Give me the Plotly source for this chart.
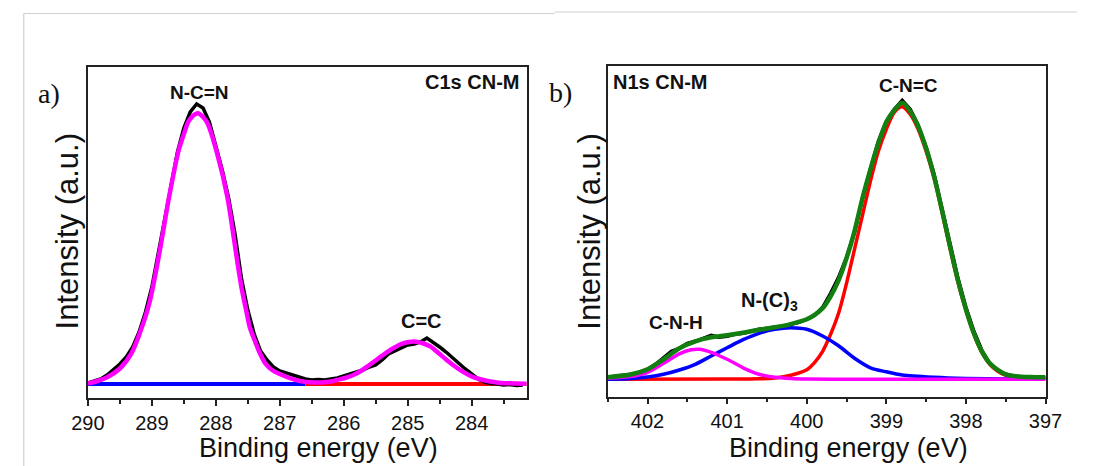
import plotly.graph_objects as go

# ---------------- Panel a: C1s CN-M ----------------
c1s_energy = [290.0, 289.9, 289.8, 289.7, 289.6, 289.5, 289.4, 289.3, 289.2, 289.1,
              289.0, 288.9, 288.8, 288.7, 288.6, 288.5, 288.4, 288.3, 288.2, 288.1,
              288.0, 287.9, 287.8, 287.7, 287.6, 287.5, 287.4, 287.3, 287.2, 287.1,
              287.0, 286.9, 286.8, 286.7, 286.6, 286.5, 286.4, 286.3, 286.2, 286.1,
              286.0, 285.9, 285.8, 285.7, 285.6, 285.5, 285.4, 285.3, 285.2, 285.1,
              285.0, 284.9, 284.8, 284.7, 284.6, 284.5, 284.4, 284.3, 284.2, 284.1,
              284.0, 283.9, 283.8, 283.7, 283.6, 283.5, 283.4, 283.3, 283.2]
c1s_raw = [1, 3, 5, 9, 14, 20, 27, 37, 52, 72,
           97, 130, 165, 200, 232, 256, 272, 280, 276, 262,
           238, 214, 186, 150, 106, 74, 50, 33, 24, 17,
           13, 11, 9, 7, 5, 4, 4.5, 4, 5, 6,
           8, 10, 12, 14, 17, 19, 24, 30, 33, 36,
           39, 40, 42, 46, 42, 37, 32, 26, 21, 15,
           10, 5, 2, 0.5, 0, -1, -0.5, -1.5, -1]

c1s_fit_energy = [290.0, 289.85, 289.7, 289.5, 289.32, 289.19, 289.04, 288.88, 288.73,
                  288.58, 288.5, 288.43, 288.36, 288.28, 288.2, 288.13, 287.98, 287.82,
                  287.67, 287.6, 287.52, 287.47, 287.37, 287.32, 287.22, 287.12, 287.0,
                  286.87, 286.75, 286.61, 286.45, 286.36, 286.2, 286.11, 285.98, 285.85,
                  285.72, 285.6, 285.47, 285.35, 285.22, 285.1, 284.98, 284.87, 284.75,
                  284.64, 284.52, 284.39, 284.27, 284.14, 284.0, 283.88, 283.73, 283.58,
                  283.4, 283.14]
c1s_fit = [0.5, 3, 6.7, 15.5, 30.7, 50.7, 80.7, 132, 187.3,
           234, 250, 262.3, 268, 270.7, 267, 260.7, 230.7, 187.3,
           125, 97, 72, 57, 40, 32, 20, 14, 10,
           6.5, 4, 2.3, 1.5, 1.5, 2.5, 4, 6, 9,
           13.5, 19, 25, 30.7, 36, 40, 42, 42.3, 40.5,
           37.3, 31, 24, 18, 12.3, 7.5, 5, 2.7, 1.3,
           0.7, 0.3]

c1s_blue_energy = [290.0, 286.6]
c1s_blue = [0, 0]
c1s_red_energy = [286.6, 283.14]
c1s_red = [0, 0]

# ---------------- Panel b: N1s CN-M ----------------
n1s_energy = [402.5, 402.4, 402.3, 402.2, 402.1, 402.0, 401.9, 401.8, 401.7, 401.6,
              401.5, 401.4, 401.3, 401.2, 401.1, 401.0, 400.9, 400.8, 400.7, 400.6,
              400.5, 400.4, 400.3, 400.2, 400.1, 400.0, 399.9, 399.8, 399.7, 399.6,
              399.5, 399.4, 399.3, 399.2, 399.1, 399.0, 398.9, 398.8, 398.7, 398.6,
              398.5, 398.4, 398.3, 398.2, 398.1, 398.0, 397.9, 397.8, 397.7, 397.6,
              397.5, 397.4, 397.3, 397.2, 397.1, 397.0]
n1s_raw = [2, 3, 4, 5, 7, 10, 15, 22, 28, 31,
           36, 38, 41, 44, 42, 43, 45, 46, 48, 50,
           51, 52, 53, 55, 57, 60, 64, 72, 86, 102,
           122, 147, 181, 210, 238, 258, 270, 279, 270, 254,
           232, 205, 172, 136, 101, 72, 48, 29, 16, 9,
           5, 3, 2.5, 2, 2, 1.5]

n1s_env_energy = [402.5, 402.2, 402.0, 401.8, 401.6, 401.4, 401.2, 401.0, 400.8, 400.6,
                  400.4, 400.2, 400.0, 399.9, 399.8, 399.7, 399.6, 399.5, 399.4, 399.3,
                  399.2, 399.1, 399.0, 398.9, 398.8, 398.7, 398.6, 398.5, 398.4, 398.3,
                  398.2, 398.1, 398.0, 397.9, 397.8, 397.7, 397.6, 397.5, 397.4, 397.2,
                  397.0]
n1s_env = [2, 5, 10, 20, 31, 38, 42, 44, 46.5, 49.5,
           52, 55.2, 60, 64.5, 71, 83, 99, 121, 148, 181,
           210, 236, 257, 269, 276.6, 268, 253, 231, 203, 169,
           133, 99, 70, 46, 28, 16, 9.5, 5, 3.3, 2.2,
           2]

n1s_cnc_energy = [402.5, 401.0, 400.6, 400.4, 400.2, 400.0, 399.9, 399.8, 399.7, 399.6,
                  399.5, 399.4, 399.3, 399.2, 399.1, 399.0, 398.9, 398.8, 398.7, 398.6,
                  398.5, 398.4, 398.3, 398.2, 398.1, 398.0, 397.9, 397.8, 397.7, 397.6,
                  397.5, 397.4, 397.2, 397.0]
n1s_cnc = [0, 0.2, 0.5, 1.3, 4, 9.5, 17, 28, 45, 66,
           96, 130, 164, 198, 228, 250, 267, 272.6, 265, 250,
           228, 201, 167, 131, 97, 69, 45, 27, 15, 8,
           4, 2.3, 1.3, 1]

n1s_nc3_energy = [402.5, 402.2, 402.0, 401.8, 401.6, 401.4, 401.2, 401.0, 400.8, 400.6,
                  400.4, 400.2, 400.0, 399.8, 399.6, 399.4, 399.2, 399.0, 398.8, 398.4,
                  398.0, 397.5, 397.0]
n1s_nc3 = [0, 0.8, 2.3, 5, 9.3, 15, 23.3, 31.5, 39.6, 46,
           50, 51.6, 50, 43.3, 33.5, 21, 11.5, 7.5, 4.3, 2,
           0.8, 0.2, 0]

n1s_cnh_energy = [402.5, 402.2, 402.0, 401.8, 401.6, 401.45, 401.35, 401.2, 401.0, 400.8,
                  400.6, 400.4, 400.2, 400.0, 399.5, 398.0, 397.0]
n1s_cnh = [1, 3, 7, 16, 25.5, 29.5, 30, 27, 20, 11.5,
           5, 2, 0.8, 0.3, 0, 0, 0]

FONT = "Liberation Sans, Arial, sans-serif"
SERIF = "Liberation Serif, Times New Roman, serif"

fig = go.Figure()

# panel a traces
fig.add_trace(go.Scatter(x=c1s_blue_energy, y=c1s_blue, mode="lines",
                         line=dict(color="#0000FF", width=4), xaxis="x", yaxis="y"))
fig.add_trace(go.Scatter(x=c1s_red_energy, y=c1s_red, mode="lines",
                         line=dict(color="#FF0000", width=4), xaxis="x", yaxis="y"))
fig.add_trace(go.Scatter(x=c1s_energy, y=c1s_raw, mode="lines",
                         line=dict(color="#000000", width=3.5), xaxis="x", yaxis="y"))
fig.add_trace(go.Scatter(x=c1s_fit_energy, y=c1s_fit, mode="lines",
                         line=dict(color="#FF00FF", width=4.5, shape="spline", smoothing=0.8),
                         xaxis="x", yaxis="y"))

# panel b traces
fig.add_trace(go.Scatter(x=n1s_energy, y=n1s_raw, mode="lines",
                         line=dict(color="#000000", width=3.5), xaxis="x2", yaxis="y2"))
fig.add_trace(go.Scatter(x=n1s_cnc_energy, y=n1s_cnc, mode="lines",
                         line=dict(color="#FF0000", width=3.5, shape="spline", smoothing=0.8),
                         xaxis="x2", yaxis="y2"))
fig.add_trace(go.Scatter(x=n1s_nc3_energy, y=n1s_nc3, mode="lines",
                         line=dict(color="#0000FF", width=3.5, shape="spline", smoothing=0.8),
                         xaxis="x2", yaxis="y2"))
fig.add_trace(go.Scatter(x=n1s_cnh_energy, y=n1s_cnh, mode="lines",
                         line=dict(color="#FF00FF", width=3.5, shape="spline", smoothing=0.8),
                         xaxis="x2", yaxis="y2"))
fig.add_trace(go.Scatter(x=n1s_env_energy, y=n1s_env, mode="lines",
                         line=dict(color="#118011", width=4.5, shape="spline", smoothing=0.8),
                         xaxis="x2", yaxis="y2"))

xcommon = dict(showline=True, linecolor="#222222", linewidth=1.5, mirror=True,
               ticks="outside", ticklen=6, tickwidth=1.5, tickcolor="#222222",
               dtick=1, tick0=0, showgrid=False, zeroline=False,
               tickfont=dict(family=FONT, size=20, color="#111111"),
               minor=dict(dtick=0.5, ticks="outside", ticklen=4, tickwidth=1.5,
                          tickcolor="#222222", showgrid=False))
ycommon = dict(showline=True, linecolor="#222222", linewidth=1.5, mirror=True,
               ticks="", showticklabels=False, showgrid=False, zeroline=False)

W, H = 1094, 466
fig.update_layout(
    width=W, height=H, showlegend=False,
    paper_bgcolor="white", plot_bgcolor="white",
    margin=dict(l=0, r=0, t=0, b=0),
    xaxis=dict(xcommon, domain=[73.2 / W, 526 / W], range=[290, 283.14]),
    yaxis=dict(ycommon, domain=[(H - 398.3) / H, (H - 66.7) / H], range=[-14.3, 317.3]),
    xaxis2=dict(xcommon, domain=[609.7 / W, 1061.5 / W], range=[402.5, 397], anchor="y2"),
    yaxis2=dict(ycommon, domain=[(H - 396.7) / H, (H - 65.7) / H], range=[-17.4, 313.6],
                anchor="x2"),
)

def ann_paper(text, x, y, size, family=FONT, bold=False, angle=0, xanchor="center"):
    fig.add_annotation(text=f"<b>{text}</b>" if bold else text, x=x / W, y=(H - y) / H,
                       xref="paper", yref="paper", showarrow=False, textangle=angle,
                       xanchor=xanchor, yanchor="middle",
                       font=dict(family=family, size=size, color="#111111"))

def ann_data(text, x, y, size, ax="x", ay="y"):
    fig.add_annotation(text=f"<b>{text}</b>", x=x, y=y, xref=ax, yref=ay, showarrow=False,
                       xanchor="center", yanchor="middle",
                       font=dict(family=FONT, size=size, color="#111111"))

# panel labels
ann_paper("a)", 33, 93, 28, family=SERIF)
ann_paper("b)", 561, 92, 28, family=SERIF)
# axis titles
ann_paper("Binding energy (eV)", 311.6, 448, 27)
ann_paper("Binding energy (eV)", 858, 448, 27)
ann_paper("Intensity (a.u.)", 52, 231, 31, angle=-90)
ann_paper("Intensity (a.u.)", 591, 232, 31, angle=-90)
# sample labels
ann_paper("C1s CN-M", 520, 82, 20, bold=True, xanchor="right")
ann_paper("N1s CN-M", 613.5, 82, 20, bold=True, xanchor="left")
# peak labels
ann_data("N-C=N", 288.26, 291.5, 19)
ann_data("C=C", 284.78, 63.5, 20)
ann_data("C-N=C", 398.72, 293.3, 19, "x2", "y2")
ann_data("N-(C)<sub>3</sub>", 400.47, 78, 20, "x2", "y2")
ann_data("C-N-H", 401.64, 56.8, 19, "x2", "y2")

# faint page border lines from the scanned figure
for x0, y0, x1, y1 in [(7, 13.5, 555, 13.5), (555, 12, W, 12), (7, 13.5, 7, H)]:
    fig.add_shape(type="line", xref="paper", yref="paper",
                  x0=x0 / W, y0=(H - y0) / H, x1=x1 / W, y1=(H - y1) / H,
                  line=dict(color="#cfcfcf", width=1.2))

fig.write_html("out.html", config={"displayModeBar": False},
               post_script="document.body.style.margin='0';"
                           "document.body.style.overflow='hidden';")
